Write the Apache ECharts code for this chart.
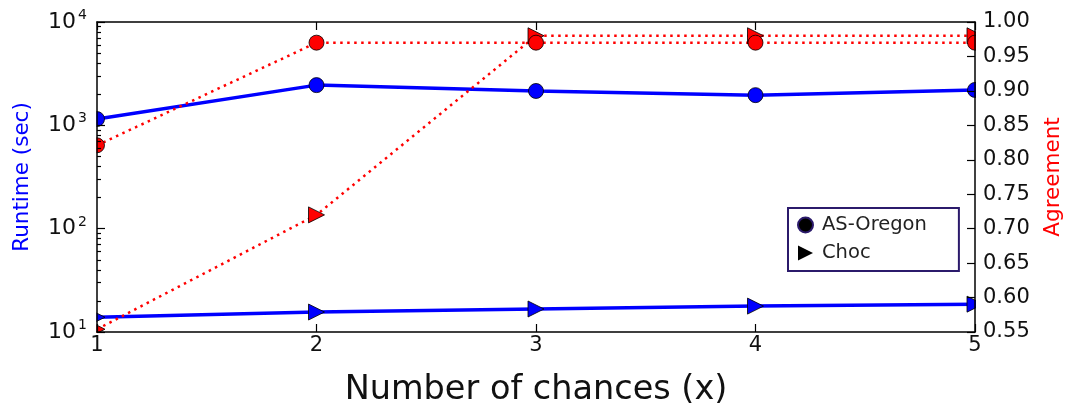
<!DOCTYPE html>
<html><head><meta charset="utf-8">
<script src="https://cdn.jsdelivr.net/npm/echarts@6/dist/echarts.min.js"></script>
<style>html,body{margin:0;padding:0;background:#fff}#c{width:1066px;height:408px}</style>
</head><body><div id="c"></div>
<script>
const chances = [1, 2, 3, 4, 5];
const runtimeASOregon = [1150, 2450, 2150, 1960, 2200];
const runtimeChoc = [13.9, 15.6, 16.7, 17.8, 18.6];
const agreementASOregon = [0.821, 0.970, 0.970, 0.970, 0.970];
const agreementChoc = [0.554, 0.720, 0.980, 0.980, 0.980];
const logMinorTicks = [20,30,40,50,60,70,80,90,200,300,400,500,600,700,800,900,2000,3000,4000,5000,6000,7000,8000,9000];

const pair = (xs, ys) => xs.map((x, i) => [x, ys[i]]);
const TRI = 'path://M0,0L10,5L0,10Z';
const FONT = 'DejaVu Sans';

const axLine = () => ({show: true, lineStyle: {color: '#000', width: 1.5}});
const tick = (len) => ({show: true, inside: true, length: len, lineStyle: {color: '#000', width: 1.2}});
const chart = echarts.init(document.getElementById('c'));
chart.setOption({
  animation: false,
  textStyle: {fontFamily: FONT},
  grid: {left: 97, right: 91, top: 22, bottom: 76, containLabel: false, outerBoundsMode: 'none'},
  legend: {
    orient: 'vertical', left: 788, top: 208,
    backgroundColor: '#fff', borderColor: '#2b1a6b', borderWidth: 2,
    padding: [7, 32, 8, 9], itemGap: 8, itemWidth: 15, itemHeight: 15,
    textStyle: {fontFamily: FONT, fontSize: 19.5, color: '#222', padding: [0, 0, 0, 4]},
    data: [{name: 'AS-Oregon', icon: 'circle'}, {name: 'Choc', icon: TRI}]
  },
  xAxis: [{
    type: 'value', min: 1, max: 5, interval: 1, position: 'bottom',
    name: 'Number of chances (x)', nameLocation: 'middle', nameGap: 41,
    nameTextStyle: {fontFamily: FONT, fontSize: 33.5, color: '#111'},
    axisLine: axLine(), splitLine: {show: false}, axisTick: tick(8),
    axisLabel: {fontFamily: FONT, fontSize: 21, color: '#111', margin: 3}
  }, {
    type: 'value', min: 1, max: 5, interval: 1, position: 'top',
    axisLine: axLine(), splitLine: {show: false}, axisTick: tick(8),
    axisLabel: {show: false}
  }],
  yAxis: [{
    type: 'log', logBase: 10, min: 10, max: 10000, position: 'left',
    name: 'Runtime (sec)', nameLocation: 'middle', nameGap: 64, nameRotate: 90,
    nameTextStyle: {fontFamily: FONT, fontSize: 21.5, color: '#0000ff'},
    axisLine: axLine(), splitLine: {show: false}, axisTick: tick(8),
    axisLabel: {
      fontFamily: FONT, fontSize: 22, color: '#111', margin: 10,
      formatter: v => '{b|10}{s|' + Math.round(Math.log10(v)) + '}',
      rich: {b: {fontFamily: FONT, fontSize: 22, color: '#111'},
             s: {fontFamily: FONT, fontSize: 14, color: '#111', padding: [0, 0, 13, 2]}}
    }
  }, {
    type: 'value', min: 0.55, max: 1.0, interval: 0.05, position: 'right',
    name: 'Agreement', nameLocation: 'middle', nameGap: 67, nameRotate: 90,
    nameTextStyle: {fontFamily: FONT, fontSize: 21.5, color: '#ff0000'},
    axisLine: axLine(), splitLine: {show: false}, axisTick: tick(8),
    axisLabel: {fontFamily: FONT, fontSize: 21, color: '#111', margin: 8,
      formatter: v => v.toFixed(2)}
  }, {
    type: 'log', logBase: 10, min: 10, max: 10000, position: 'left',
    axisLine: {show: false}, splitLine: {show: false}, axisLabel: {show: false},
    axisTick: {show: true, inside: true, length: 4, lineStyle: {color: '#000', width: 1.2}, customValues: logMinorTicks}
  }],
  graphic: [
    {type: 'rect', shape: {x: 86, y: 0, width: 10.5, height: 343}, style: {fill: '#fff'}, z: -1, silent: true},
    {type: 'rect', shape: {x: 976, y: 0, width: 10, height: 343}, style: {fill: '#fff'}, z: -1, silent: true},
    {type: 'rect', shape: {x: 86, y: 333, width: 900, height: 10}, style: {fill: '#fff'}, z: -1, silent: true}
  ],
  series: [
    {name: 'AS-Oregon', type: 'line', data: [], symbol: 'circle', itemStyle: {color: '#000', borderColor: '#2b1a6b', borderWidth: 1.5}},
    {name: 'Choc', type: 'line', data: [], symbol: TRI, itemStyle: {color: '#000'}},
    {name: 'AS-Oregon runtime', type: 'line', xAxisIndex: 0, yAxisIndex: 0, data: pair(chances, runtimeASOregon),
     symbol: 'circle', symbolSize: 15, lineStyle: {color: '#0000ff', width: 3.5},
     itemStyle: {color: '#0000ff', borderColor: '#000', borderWidth: 0.8}, z: -3},
    {name: 'Choc runtime', type: 'line', xAxisIndex: 0, yAxisIndex: 0, data: pair(chances, runtimeChoc),
     symbol: TRI, symbolSize: 16, lineStyle: {color: '#0000ff', width: 3.5},
     itemStyle: {color: '#0000ff', borderColor: '#000', borderWidth: 0.8}, z: -3},
    {name: 'Choc agreement', type: 'line', xAxisIndex: 0, yAxisIndex: 1, data: pair(chances, agreementChoc),
     symbol: TRI, symbolSize: 16, lineStyle: {color: '#ff0000', width: 2.5, type: [2.5, 4.5]},
     itemStyle: {color: '#ff0000', borderColor: '#000', borderWidth: 0.8}, z: -2},
    {name: 'AS-Oregon agreement', type: 'line', xAxisIndex: 0, yAxisIndex: 1, data: pair(chances, agreementASOregon),
     symbol: 'circle', symbolSize: 15, lineStyle: {color: '#ff0000', width: 2.5, type: [2.5, 4.5]},
     itemStyle: {color: '#ff0000', borderColor: '#000', borderWidth: 0.8}, z: -2}
  ]
});
</script></body></html>
